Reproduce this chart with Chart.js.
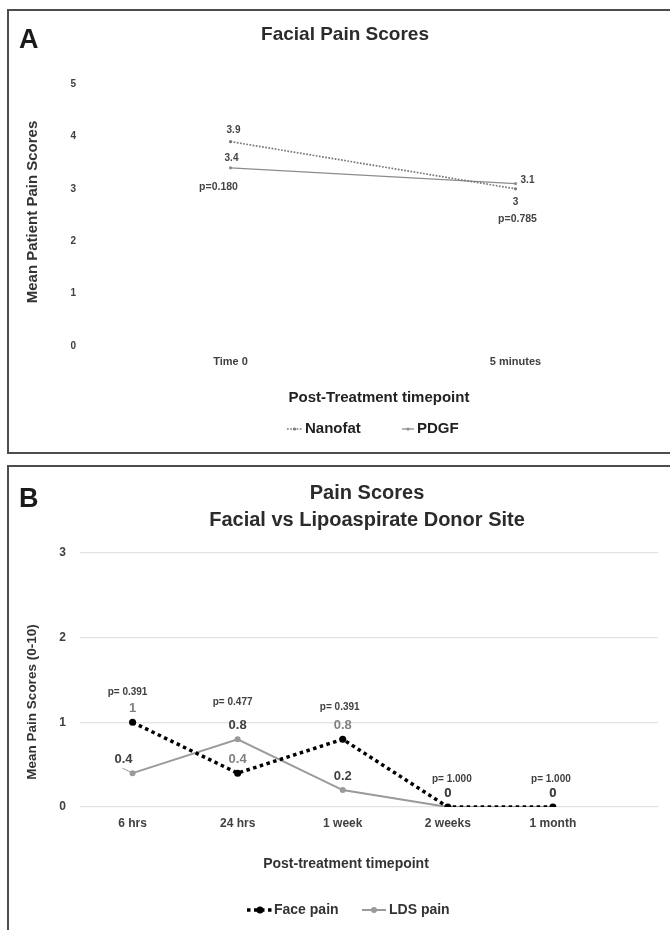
<!DOCTYPE html>
<html>
<head>
<meta charset="utf-8">
<script src="https://cdn.jsdelivr.net/npm/chart.js@4/dist/chart.umd.min.js"></script>
<style>
  html, body { margin: 0; padding: 0; background: #fff; width: 670px; height: 930px; overflow: hidden; }
  .frame { position: absolute; border: 2px solid #4d4d4d; box-sizing: border-box; }
  #frameA { left: 7px; top: 9px; width: 690px; height: 445px; }
  #frameB { left: 7px; top: 465px; width: 690px; height: 520px; }
  canvas { position: absolute; left: 0; }
  #chartA { top: 0; }
  #chartB { top: 460px; }
</style>
</head>
<body>
<div class="frame" id="frameA"></div>
<div class="frame" id="frameB"></div>
<canvas id="chartA" width="670" height="460"></canvas>
<canvas id="chartB" width="670" height="470"></canvas>
<script>
// Panel A: facial pain right after treatment
const timepointsA = ['Time 0', '5 minutes'];
const nanofat = [3.9, 3.0];
const pdgf = [3.4, 3.1];
const pValuesA = ['p=0.180', 'p=0.785'];
const yTicksA = [0, 1, 2, 3, 4, 5];

// Panel B: face vs lipoaspirate donor site over follow-up
const timepointsB = ['6 hrs', '24 hrs', '1 week', '2 weeks', '1 month'];
const facePain = [1, 0.4, 0.8, 0, 0];
const ldsPain = [0.4, 0.8, 0.2, 0, 0];
const pValuesB = ['p= 0.391', 'p= 0.477', 'p= 0.391', 'p= 1.000', 'p= 1.000'];
const yTicksB = [0, 1, 2, 3];

const FONT = '"Liberation Sans", Arial, Helvetica, sans-serif';
const font = (size, weight = 'bold') => `${weight} ${size}px ${FONT}`;
const tickFont = (size) => ({ family: FONT, size: size, weight: 'bold' });

// Free text: panel letters, titles, axis titles
const panelText = {
  id: 'panelText',
  afterDraw(chart, args, opts) {
    const ctx = chart.ctx;
    (opts.items || []).forEach(it => {
      ctx.save();
      ctx.font = it.font;
      ctx.fillStyle = it.color || '#333';
      ctx.textAlign = it.align || 'center';
      ctx.textBaseline = it.baseline || 'middle';
      ctx.translate(it.x, it.y);
      if (it.rotate) ctx.rotate(it.rotate);
      ctx.fillText(it.text, 0, 0);
      ctx.restore();
    });
  }
};

// Value labels next to each point, plus p-values per timepoint
const valueLabels = {
  id: 'valueLabels',
  afterDatasetsDraw(chart, args, opts) {
    const ctx = chart.ctx;
    (opts.series || []).forEach(s => {
      const meta = chart.getDatasetMeta(s.dataset);
      const ds = chart.data.datasets[s.dataset];
      meta.data.forEach((pt, j) => {
        const raw = ds.data[j];
        const v = (raw !== null && typeof raw === 'object') ? raw.y : raw;
        const off = (s.offsets && s.offsets[j]) || s.offset || [0, -14];
        ctx.save();
        const lead = s.leaders && s.leaders[j];
        if (lead) {
          ctx.strokeStyle = ds.borderColor;
          ctx.lineWidth = 1;
          ctx.beginPath();
          ctx.moveTo(pt.x, pt.y);
          ctx.lineTo(pt.x + lead[0], pt.y + lead[1]);
          ctx.stroke();
        }
        ctx.font = s.font;
        ctx.fillStyle = s.color;
        ctx.textAlign = 'center';
        ctx.textBaseline = 'middle';
        ctx.fillText(String(v), pt.x + off[0], pt.y + off[1]);
        ctx.restore();
      });
    });
    const pv = opts.pValues;
    if (pv) {
      pv.texts.forEach((t, j) => {
        const pts = chart.data.datasets.map((_, i) => chart.getDatasetMeta(i).data[j]);
        const anchor = pts.reduce((a, b) => (pv.anchor === 'below' ? (b.y > a.y ? b : a) : (b.y < a.y ? b : a)));
        const off = pv.offsets[j];
        ctx.save();
        ctx.font = pv.font;
        ctx.fillStyle = pv.color;
        ctx.textAlign = 'center';
        ctx.textBaseline = 'middle';
        ctx.fillText(t, anchor.x + off[0], anchor.y + off[1]);
        ctx.restore();
      });
    }
  }
};

// Legend with line-and-marker keys
const lineLegend = {
  id: 'lineLegend',
  afterDraw(chart, args, opts) {
    const ctx = chart.ctx;
    (opts.items || []).forEach(it => {
      const ds = chart.data.datasets[it.dataset];
      ctx.save();
      ctx.strokeStyle = ds.borderColor;
      ctx.lineWidth = ds.borderWidth;
      ctx.setLineDash(ds.borderDash || []);
      ctx.beginPath();
      ctx.moveTo(it.x, opts.y);
      ctx.lineTo(it.x + it.len, opts.y);
      ctx.stroke();
      ctx.setLineDash([]);
      ctx.fillStyle = ds.pointBackgroundColor;
      ctx.beginPath();
      ctx.arc(it.x + it.len / 2, opts.y, ds.pointRadius, 0, Math.PI * 2);
      ctx.fill();
      ctx.font = opts.font;
      ctx.fillStyle = opts.color;
      ctx.textAlign = 'left';
      ctx.textBaseline = 'middle';
      ctx.fillText(ds.label, it.x + it.len + it.gap, opts.y);
      ctx.restore();
    });
  }
};

const plugins = [panelText, valueLabels, lineLegend];

new Chart(document.getElementById('chartA'), {
  type: 'line',
  data: {
    labels: timepointsA,
    datasets: [
      { label: 'Nanofat', data: nanofat, borderColor: '#777', borderWidth: 1.7, borderDash: [1.7, 1.5],
        pointRadius: 1.6, pointBackgroundColor: '#777', pointBorderWidth: 0, tension: 0 },
      { label: 'PDGF', data: pdgf, borderColor: '#8c8c8c', borderWidth: 1.3,
        pointRadius: 1.6, pointBackgroundColor: '#8c8c8c', pointBorderWidth: 0, tension: 0 }
    ]
  },
  options: {
    responsive: false,
    animation: false,
    events: [],
    layout: { autoPadding: false, padding: { left: 0, right: 12, top: 84, bottom: 84 } },
    plugins: {
      legend: { display: false },
      title: { display: false },
      tooltip: { enabled: false },
      panelText: { items: [
        { text: 'A', x: 19, y: 48, font: font(27), color: '#1a1a1a', align: 'left', baseline: 'alphabetic' },
        { text: 'Facial Pain Scores', x: 345, y: 35, font: font(19), color: '#2b2b2b' },
        { text: 'Mean Patient Pain Scores', x: 33, y: 212, font: font(15), color: '#333' },
        { text: 'Post-Treatment timepoint', x: 379, y: 398, font: font(15), color: '#222' }
      ].map(it => it.text === 'Mean Patient Pain Scores' ? Object.assign(it, { rotate: -Math.PI / 2 }) : it) },
      valueLabels: {
        series: [
          { dataset: 0, font: font(10), color: '#444', offsets: [[3, -11], [0, 13]] },
          { dataset: 1, font: font(10), color: '#444', offsets: [[1, -10], [12, -3]] }
        ],
        pValues: { texts: pValuesA, anchor: 'below', font: font(10.5), color: '#444', offsets: [[-12, 19], [2, 30]] }
      },
      lineLegend: { y: 429, font: font(15), color: '#222', items: [
        { dataset: 0, x: 287, len: 15, gap: 3 },
        { dataset: 1, x: 402, len: 12, gap: 3 }
      ] }
    },
    scales: {
      x: {
        type: 'category',
        offset: true,
        grid: { display: false, drawTicks: false },
        border: { display: false },
        ticks: { padding: 9, font: tickFont(11), color: '#404040', maxRotation: 0 },
        afterFit: s => { s.height = 30; }
      },
      y: {
        min: 0, max: 5,
        grid: { display: false, drawTicks: false },
        border: { display: false },
        afterBuildTicks: s => { s.ticks = yTicksA.map(v => ({ value: v })); },
        ticks: { padding: 12, font: tickFont(10), color: '#404040' },
        afterFit: s => { s.width = 88; }
      }
    }
  },
  plugins: plugins
});

new Chart(document.getElementById('chartB'), {
  type: 'line',
  data: {
    datasets: [
      { label: 'Face pain', data: facePain.map((v, i) => ({ x: i, y: v })), borderColor: '#000', borderWidth: 3.5,
        borderDash: [3.5, 3.5], pointRadius: 3.5, pointBackgroundColor: '#000', pointBorderWidth: 0, tension: 0 },
      { label: 'LDS pain', data: ldsPain.map((v, i) => ({ x: i, y: v })), borderColor: '#9a9a9a', borderWidth: 2,
        pointRadius: 3, pointBackgroundColor: '#9a9a9a', pointBorderWidth: 0, tension: 0 }
    ]
  },
  options: {
    responsive: false,
    animation: false,
    events: [],
    layout: { autoPadding: false, padding: { left: 0, right: 12, top: 93, bottom: 93 } },
    plugins: {
      legend: { display: false },
      title: { display: false },
      tooltip: { enabled: false },
      panelText: { items: [
        { text: 'B', x: 19, y: 47, font: font(27), color: '#1a1a1a', align: 'left', baseline: 'alphabetic' },
        { text: 'Pain Scores', x: 367, y: 33, font: font(20), color: '#2b2b2b' },
        { text: 'Facial vs Lipoaspirate Donor Site', x: 367, y: 60, font: font(20), color: '#2b2b2b' },
        { text: 'Mean Pain Scores (0-10)', x: 32, y: 242, font: font(13.5), color: '#333', rotate: -Math.PI / 2 },
        { text: 'Post-treatment timepoint', x: 346, y: 404, font: font(14), color: '#333' }
      ] },
      valueLabels: {
        series: [
          { dataset: 0, font: font(13), color: '#808080', offset: [0, -14] },
          { dataset: 1, font: font(13), color: '#404040', offsets: [[-9, -14]], offset: [0, -14],
            leaders: [[-10, -5]] }
        ],
        pValues: { texts: pValuesB, anchor: 'above', font: font(10), color: '#404040',
          offsets: [[-5, -30], [-5, -37], [-3, -32], [4, -28], [-2, -28]] }
      },
      lineLegend: { y: 450, font: font(14), color: '#333', items: [
        { dataset: 0, x: 247, len: 26, gap: 1 },
        { dataset: 1, x: 362, len: 24, gap: 3 }
      ] }
    },
    scales: {
      x: {
        type: 'linear',
        min: -0.5, max: 5,
        grid: { display: false, drawTicks: false },
        border: { display: false },
        afterBuildTicks: s => { s.ticks = timepointsB.map((_, i) => ({ value: i })); },
        ticks: { padding: 9, autoSkip: false, maxRotation: 0, font: tickFont(12), color: '#404040',
          callback: v => timepointsB[v] },
        afterFit: s => { s.height = 30; }
      },
      y: {
        min: 0, max: 3,
        grid: { color: '#e2e2e2', lineWidth: 1.2, drawTicks: false },
        border: { display: false },
        afterBuildTicks: s => { s.ticks = yTicksB.map(v => ({ value: v })); },
        ticks: { padding: 14, font: tickFont(12), color: '#404040' },
        afterFit: s => { s.width = 80; }
      }
    }
  },
  plugins: plugins
});
</script>
</body>
</html>
